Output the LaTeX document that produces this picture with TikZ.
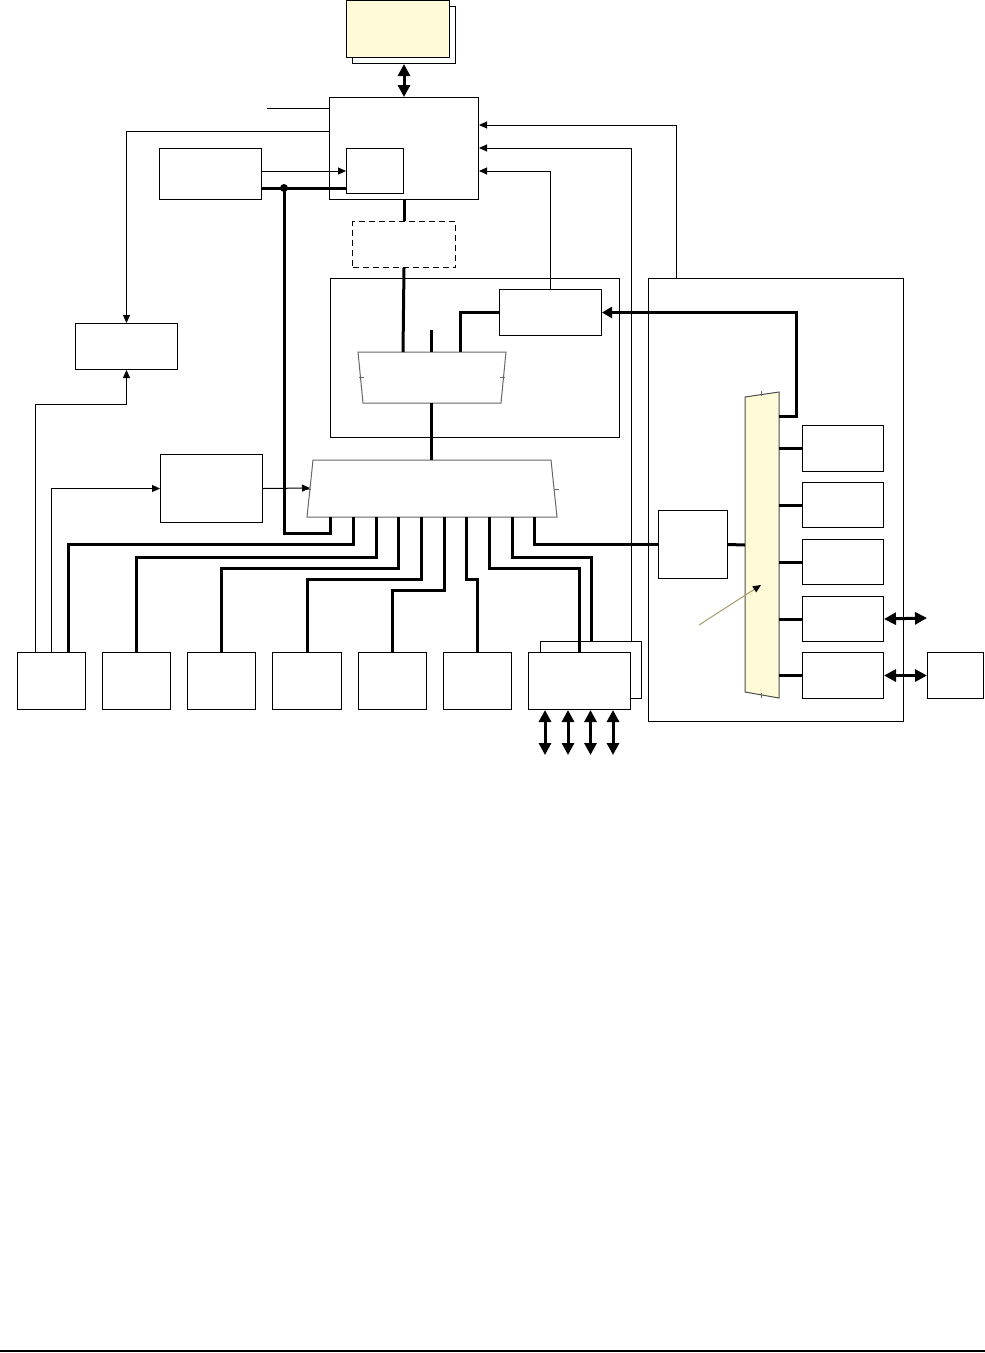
\documentclass[tikz,border=0pt]{standalone}
\usepackage{xcolor}
\usepackage{tikz}
\usetikzlibrary{arrows.meta,calc}
\definecolor{memyellow}{RGB}{255,251,217}
\definecolor{hintline}{RGB}{165,155,105}

\begin{document}
\begin{tikzpicture}[x=1pt,y=-1pt,
  blk/.style={draw,line width=1pt,fill=white,inner sep=0pt,anchor=north west},
  bus/.style={line width=3pt},
  wire/.style={line width=1pt},
  arr/.style={line width=1pt,-{Triangle[length=8pt,width=7pt]}},
  dbl/.style={line width=3pt,{Triangle[length=12pt,width=12pt]}-{Triangle[length=12pt,width=12pt]}},
  mux/.style={draw=black!60,line width=1pt}]
\useasboundingbox (0,0) rectangle (985,1353);

\node[blk,minimum width=289pt,minimum height=159pt,fill=none] (sub) at (330,278) {};
\node[blk,minimum width=255pt,minimum height=443pt,fill=none] (rpanel) at (648,278) {};

\coordinate (in1) at (267,108);
\coordinate (jn) at (284,188);
\coordinate (bmin) at (310,488);
\coordinate (bmtop) at (431,460);
\coordinate (sm1) at (403,352);
\coordinate (sm2) at (431,352);
\coordinate (sm3) at (460,352);
\coordinate (smbot) at (431,403);
\coordinate (r631) at (631,641);
\coordinate (p1) at (676,278);
\coordinate (tm1) at (779,416);
\coordinate (tmin) at (745,545);
\coordinate (tmr) at (779,0);
\coordinate (io) at (927,618);
\coordinate (t0) at (330,517);
\coordinate (t1) at (353,517);
\coordinate (t2) at (376,517);
\coordinate (t3) at (398,517);
\coordinate (t4) at (421,517);
\coordinate (t5) at (444,517);
\coordinate (t6) at (466,517);
\coordinate (t7) at (489,517);
\coordinate (t8) at (512,517);
\coordinate (t9) at (534,517);

\node[blk,minimum width=103pt,minimum height=57pt] (memback) at (352,6) {};
\node[blk,minimum width=103pt,minimum height=57pt,fill=memyellow] (mem) at (346,0) {};
\node[blk,minimum width=149pt,minimum height=102pt] (cpu) at (329,97) {};
\node[blk,minimum width=57pt,minimum height=45pt] (cache) at (346,148) {};
\node[blk,minimum width=102pt,minimum height=51pt] (lbox) at (159,148) {};
\node[blk,minimum width=102pt,minimum height=46pt] (intc) at (75,323) {};
\node[blk,minimum width=102pt,minimum height=68pt] (clk) at (160,454) {};
\node[blk,minimum width=103pt,minimum height=46pt,dash pattern=on 6pt off 4pt] (dash) at (352,221) {};
\node[blk,minimum width=102pt,minimum height=46pt] (ctl) at (499,289) {};
\node[blk,minimum width=69pt,minimum height=68pt] (bridge) at (658,510) {};
\node[blk,minimum width=81pt,minimum height=46pt] (r1) at (802,425) {};
\node[blk,minimum width=81pt,minimum height=45pt] (r2) at (802,482) {};
\node[blk,minimum width=81pt,minimum height=45pt] (r3) at (802,539) {};
\node[blk,minimum width=81pt,minimum height=45pt] (r4) at (802,596) {};
\node[blk,minimum width=81pt,minimum height=46pt] (r5) at (802,652) {};
\node[blk,minimum width=56pt,minimum height=46pt] (ext) at (927,652) {};
\node[blk,minimum width=68pt,minimum height=57pt] (b1) at (17,652) {};
\node[blk,minimum width=68pt,minimum height=57pt] (b2) at (102,652) {};
\node[blk,minimum width=68pt,minimum height=57pt] (b3) at (187,652) {};
\node[blk,minimum width=69pt,minimum height=57pt] (b4) at (272,652) {};
\node[blk,minimum width=68pt,minimum height=57pt] (b5) at (358,652) {};
\node[blk,minimum width=68pt,minimum height=57pt] (b6) at (443,652) {};
\node[blk,minimum width=101pt,minimum height=57pt] (b7back) at (540,641) {};
\node[blk,minimum width=102pt,minimum height=57pt] (b7) at (528,652) {};

\draw[mux,fill=white] (313,460) -- (551,460) -- (557,517) -- (307,517) -- cycle;
\draw[mux] (306,489) -- (311,489) (554,489) -- (559,489);
\draw[mux,fill=white] (358,352) -- (506,352) -- (501,403) -- (363,403) -- cycle;
\draw[mux] (359,377) -- (364,377) (500,377) -- (505,377);
\draw[draw=black!70,line width=1pt,fill=memyellow] (745,397) -- (779,392) -- (779,698) -- (745,692) -- cycle;
\draw[mux] (761,391) -- (761,396) (761,693) -- (761,698);

\draw[dbl] (memback.south) -- (cpu.north);
\draw[wire] (in1) -- (in1 -| cpu.west);
\draw[arr] ([yshift=-34pt]cpu.north west) -| (intc.north);
\draw[arr] ([xshift=18pt]b1.north west) |- ($(intc.south)+(0,34)$) -- (intc.south);
\draw[arr] (b1.north) |- (clk.west);
\draw[arr] (clk.east) -- (bmin);
\draw[arr] ([yshift=-23pt]lbox.north east) -- ([yshift=-23pt]lbox.north east -| cache.west);
\draw[bus] ([yshift=-40pt]lbox.north east) -- ([yshift=-40pt]lbox.north east -| cache.west);
\fill (jn) circle (4pt);
\draw[bus] (jn) |- ($(t0)+(0,16)$) -- (t0);
\draw[bus] (cpu.south) -- (dash.north);
\draw[bus] (dash.south) -- (sm1);
\draw[bus] (sm2) -- ++(0,-22);
\draw[bus] (sm3) |- (ctl.west);
\draw[bus] (smbot) -- (bmtop);
\draw[arr] (ctl.north) |- ([yshift=-74pt]cpu.north east);
\draw[arr] (r631) |- ([yshift=-51pt]cpu.north east);
\draw[arr] (p1) |- ([yshift=-28pt]cpu.north east);
\draw[bus,-{Triangle[length=10pt,width=11pt]}] (tm1) -- ++(17,0) |- (ctl.east);

\draw[bus] (t1) |- ($(b1.north)+(17,-108)$) -- ([xshift=17pt]b1.north);
\draw[bus] (t2) |- ($(b2.north)+(0,-95)$) -- (b2.north);
\draw[bus] (t3) |- ($(b3.north)+(0,-84)$) -- (b3.north);
\draw[bus] (t4) |- ($(b4.north)+(0,-73)$) -- (b4.north);
\draw[bus] (t5) |- ($(b5.north)+(0,-62)$) -- (b5.north);
\draw[bus] (t6) |- ($(b6.north)+(0,-73)$) -- (b6.north);
\draw[bus] (t7) |- ($(b7.north)+(0,-84)$) -- (b7.north);
\draw[bus] (t8) |- ($(b7back.north)+(0,-84)$) -- (b7back.north);
\draw[bus] (t9) |- (bridge.west);

\draw[bus] (bridge.east) -- (tmin);
\foreach \r in {r1,r2,r3,r4,r5}
  \draw[bus] (\r.west -| tmr) -- (\r.west);
\draw[dbl] (r4.east) -- (io);
\draw[dbl] (r5.east) -- (ext.west);
\foreach \x in {545,568,590.5,613}
  \draw[dbl] (b7.south -| \x,0) -- ++(0,45);
\draw[line width=1pt,hintline,-{Triangle[length=8pt,width=7pt,color=black]}] (699,625) -- (761,585);

\draw[line width=1.5pt] (0,1351) -- (985,1351);
\end{tikzpicture}
\end{document}
